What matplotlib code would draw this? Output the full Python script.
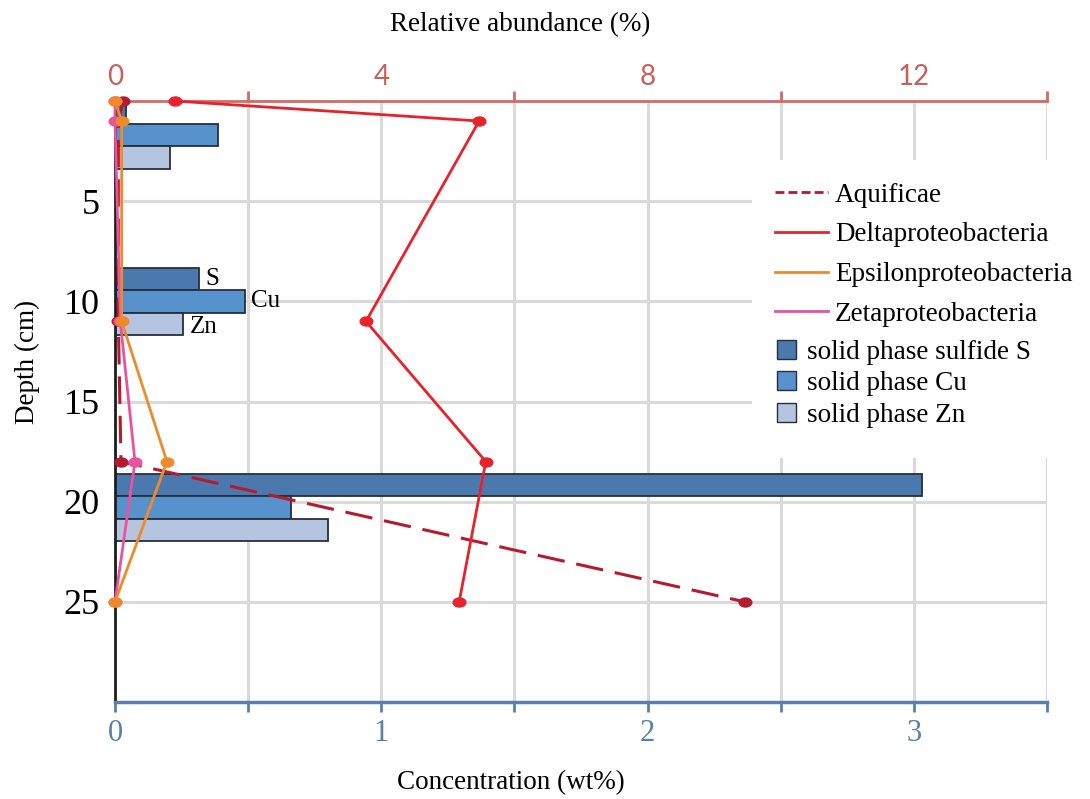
import matplotlib
matplotlib.use("Agg")
import matplotlib.pyplot as plt
from matplotlib.markers import MarkerStyle
from matplotlib.transforms import Affine2D
from matplotlib.patches import Rectangle, Patch
from matplotlib.lines import Line2D

# ---- data ----
sample_depths = [0, 1, 11, 18, 25]          # cm
aquificae = [0.12, 0.05, 0.05, 0.09, 9.46]  # relative abundance %
delta = [0.9, 5.47, 3.77, 5.57, 5.17]
epsilon = [0.0, 0.1, 0.1, 0.78, 0.0]
zeta = [0.0, 0.0, 0.08, 0.3, 0.0]

bar_depths = [1.7, 10.0, 20.3]              # cm (centre of each group)
sulfide_S = [0.04, 0.316, 3.03]             # wt%
copper = [0.385, 0.49, 0.66]
zinc = [0.207, 0.257, 0.80]

depth_ticks = [5, 10, 15, 20, 25]

# ---- styles ----
SERIF = ["Liberation Serif", "DejaVu Serif"]
c_aqu = "#b51b2e"
c_del = "#e8222b"
c_eps = "#ef8a2a"
c_zet = "#e8539e"
c_S = "#4c79ad"
c_Cu = "#5892cd"
c_Zn = "#b5c4df"
edge = "#252f3a"
grid_c = "#dadada"
top_c = "#d26a66"
bot_c = "#5a7fa8"

fig = plt.figure(figsize=(10.9, 7.99), dpi=100)
ax = fig.add_axes([115/1090, 1-702/799, (1047-115)/1090, (702-101)/799])

ax.set_xlim(0, 3.5)
ax.set_ylim(30, 0)
ax.set_axisbelow(True)

bh = 1.12
ax.barh([d - bh for d in bar_depths], sulfide_S, height=bh, color=c_S,
        edgecolor=edge, linewidth=1.3, zorder=2)
ax.barh(bar_depths, copper, height=bh, color=c_Cu,
        edgecolor=edge, linewidth=1.3, zorder=2)
ax.barh([d + bh for d in bar_depths], zinc, height=bh, color=c_Zn,
        edgecolor=edge, linewidth=1.3, zorder=2)

# bar labels on middle group
ax.text(sulfide_S[1] + 0.025, bar_depths[1] - bh, "S", family=SERIF,
        fontsize=18, va="center", ha="left")
ax.text(copper[1] + 0.02, bar_depths[1], "Cu", family=SERIF,
        fontsize=18, va="center", ha="left")
ax.text(zinc[1] + 0.025, bar_depths[1] + bh + 0.15, "Zn", family=SERIF,
        fontsize=18, va="center", ha="left")

# grid
ax.set_xticks([0, 1, 2, 3])
ax.set_xticks([0.5, 1.5, 2.5, 3.5], minor=True)
ax.set_xticklabels(["0", "1", "2", "3"])
ax.set_yticks(depth_ticks)
ax.set_yticklabels([str(t) for t in depth_ticks])
ax.grid(True, which="both", axis="x", color=grid_c, linewidth=2.2, zorder=0)
ax.grid(True, which="major", axis="y", color=grid_c, linewidth=2.2, zorder=0)

ax.tick_params(axis="x", which="both", direction="out", length=7, width=2,
               color=bot_c, labelcolor=bot_c, labelsize=22, pad=5)
ax.tick_params(axis="y", length=0, labelsize=26, pad=11)
for lab in ax.get_xticklabels():
    lab.set_family(SERIF)
for lab in ax.get_yticklabels():
    lab.set_family(SERIF)

for s in ["top", "right"]:
    ax.spines[s].set_visible(False)
ax.spines["left"].set_color("#1e1e1e")
ax.spines["left"].set_linewidth(2)
ax.spines["bottom"].set_color(bot_c)
ax.spines["bottom"].set_linewidth(2.5)

# white box behind legend (hides gridlines)
ax.add_patch(Rectangle((752/1090, 1-458/799), (1052-752)/1090, (458-160)/799,
                       transform=fig.transFigure, facecolor="white",
                       edgecolor="none", zorder=1))

# ---- top axis: relative abundance ----
ax2 = ax.twiny()
ax2.set_xlim(0, 14)
ax2.set_ylim(30, 0)
ax2.set_xticks([0, 4, 8, 12])
ax2.set_xticks([2, 6, 10, 14], minor=True)
ax2.tick_params(axis="x", which="major", length=0, labelcolor="#c6605b",
                labelsize=20, pad=8)
ax2.tick_params(axis="x", which="minor", direction="out", length=7, width=2,
                color=top_c)
for lab in ax2.get_xticklabels():
    lab.set_family(["Lato", "DejaVu Sans"])
for s in ["bottom", "left", "right"]:
    ax2.spines[s].set_visible(False)
ax2.spines["top"].set_color(top_c)
ax2.spines["top"].set_linewidth(2)

mk = MarkerStyle("o", transform=Affine2D().scale(1.4, 1.0))
ms = 6.5
ax2.plot(aquificae, sample_depths, color=c_aqu, lw=2.2, ls=(0, (9.0, 3.9)),
         marker=mk, ms=ms, clip_on=False, zorder=3)
ax2.plot(delta, sample_depths, color=c_del, lw=2, marker=mk, ms=ms,
         clip_on=False, zorder=4)
ax2.plot(zeta, sample_depths, color=c_zet, lw=2, marker=mk, ms=ms,
         clip_on=False, zorder=5)
ax2.plot(epsilon, sample_depths, color=c_eps, lw=2, marker=mk, ms=ms,
         clip_on=False, zorder=6)

# ---- legends ----
LFS = 19.5
line_handles = [
    Line2D([], [], color=c_aqu, lw=2, ls=(0, (3.2, 1.5))),
    Line2D([], [], color=c_del, lw=2),
    Line2D([], [], color=c_eps, lw=2),
    Line2D([], [], color=c_zet, lw=2),
]
line_labels = ["Aquificae", "Deltaproteobacteria", "Epsilonproteobacteria",
               "Zetaproteobacteria"]
leg1 = fig.legend(line_handles, line_labels, loc="upper left",
                  bbox_to_anchor=(764/1090, 1-172/799),
                  prop={"family": SERIF, "size": LFS}, frameon=False,
                  handlelength=1.96, handletextpad=0.26, labelspacing=0.54,
                  borderpad=0.4, borderaxespad=0)
patch_handles = [
    Patch(facecolor=c_S, edgecolor=edge, linewidth=1),
    Patch(facecolor=c_Cu, edgecolor=edge, linewidth=1),
    Patch(facecolor=c_Zn, edgecolor=edge, linewidth=1),
]
patch_labels = ["solid phase sulfide S", "solid phase Cu", "solid phase Zn"]
leg2 = fig.legend(patch_handles, patch_labels, loc="upper left",
                  bbox_to_anchor=(766/1090, 1-329/799),
                  prop={"family": SERIF, "size": LFS}, frameon=False,
                  handlelength=0.7, handleheight=0.7, handletextpad=0.4,
                  labelspacing=0.24, borderpad=0.4, borderaxespad=0)

# ---- axis titles ----
fig.text(520/1090, 1-25/799, "Relative abundance (%)", family=SERIF,
         fontsize=19.5, ha="center", va="center")
fig.text(511/1090, 1-783/799, "Concentration (wt%)", family=SERIF,
         fontsize=19.5, ha="center", va="center")
fig.text(27/1090, 1-362/799, "Depth (cm)", family=SERIF, fontsize=19.5,
         ha="center", va="center", rotation=90)

fig.savefig("out.png", dpi=100)
